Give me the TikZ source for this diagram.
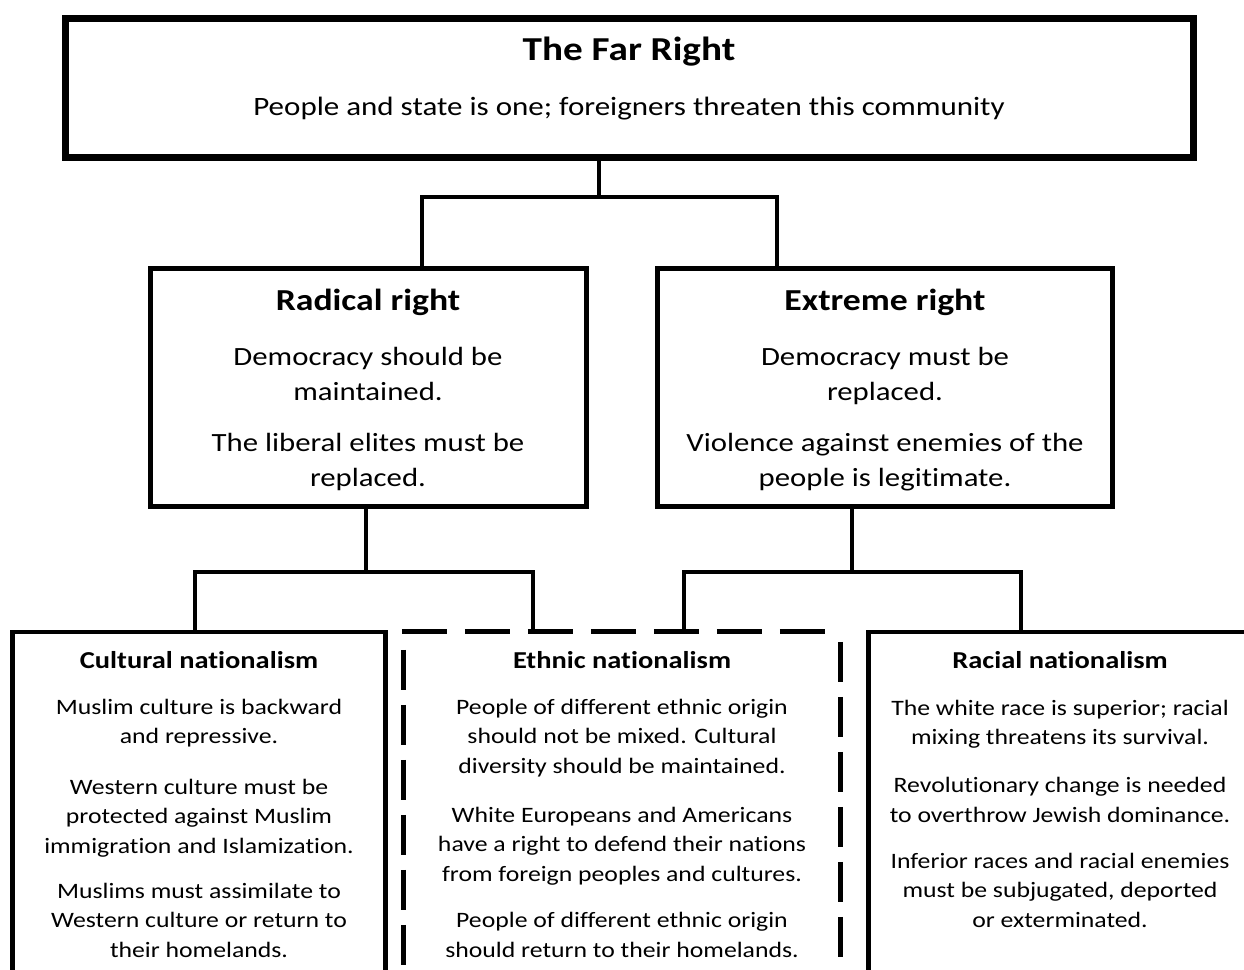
\documentclass[tikz,border=0pt]{standalone}
\usepackage{fontspec}
\setmainfont{Carlito}[FakeStretch=1.17, Ligatures=CommonOff]
\begin{document}
\begin{tikzpicture}[x=1pt,y=-1pt,
  topbox/.style={draw, line width=7pt, inner sep=0pt},
  midbox/.style={draw, line width=4.5pt, inner sep=0pt},
  lowbox/.style={draw, line width=4.5pt, inner sep=0pt},
  ghostbox/.style={inner sep=0pt},
  conn/.style={line width=4.5pt},
  dashline/.style={line width=5pt, dash pattern=on 45pt off 18pt},
  dashvert/.style={line width=5pt, dash pattern=on 40pt off 15pt},
  toptitle/.style={font=\fontsize{33.5}{40}\selectfont\bfseries, inner sep=0pt},
  toptext/.style={font=\fontsize{26.5}{32}\selectfont, inner sep=0pt},
  midtitle/.style={font=\fontsize{30.5}{36}\selectfont\bfseries, inner sep=0pt},
  midtext/.style={font=\fontsize{26.3}{35.5}\selectfont, align=center, inner sep=0pt},
  lowtitle/.style={font=\fontsize{24.3}{28}\selectfont\bfseries, inner sep=0pt},
  lowtext/.style={font=\fontsize{22}{29.5}\selectfont, align=center, inner sep=0pt}
]
\useasboundingbox (0,0) rectangle (1244,969);
\clip (0,0) rectangle (1244,969);
\fill[white] (0,0) rectangle (1244,969);

% boxes
\node[topbox, minimum width=1128pt, minimum height=139pt] (top) at (629.5,88) {};
\node[midbox, minimum width=436pt, minimum height=238pt] (rad) at (368.5,387.5) {};
\node[midbox, minimum width=455pt, minimum height=238pt] (ext) at (885,387.5) {};
\node[lowbox, minimum width=373pt, minimum height=380pt] (cult) at (199,822) {};
\node[ghostbox, minimum width=436pt, minimum height=380pt] (eth) at (622,822) {};
\node[lowbox, minimum width=392pt, minimum height=380pt] (race) at (1064.5,822) {};

% dashed ethnic box
\draw[dashline] ([xshift=-2pt]eth.north west) -- (eth.north east);
\draw[dashvert] ([yshift=-18pt]eth.north west) -- (eth.south west);
\draw[dashvert] ([yshift=-10pt]eth.north east) -- (eth.south east);

% connector junctions
\coordinate (j0) at (599,197);
\coordinate (jl) at (422,197);
\coordinate (jr) at (777,197);
\coordinate (k0) at (366,572);
\coordinate (kl) at (195,572);
\coordinate (kr) at (533,572);
\coordinate (m0) at (852,572);
\coordinate (ml) at (684,572);
\coordinate (mr) at (1021,572);

\draw[conn] (top.south -| j0) -- (j0);
\draw[conn] (rad.north -| jl) -- (jl) -- (jr) -- (ext.north -| jr);
\draw[conn] (rad.south -| k0) -- (k0);
\draw[conn] (cult.north -| kl) -- (kl) -- (kr) -- (eth.north -| kr);
\draw[conn] (ext.south -| m0) -- (m0);
\draw[conn] (eth.north -| ml) -- (ml) -- (mr) -- (race.north -| mr);

% texts
\node[toptitle] (t1) at (629,52) {The Far Right};
\node[toptext] (t2) at (629,109) {People and state is one; foreigners threaten this community};

\node[midtitle] (r1) at (368,302) {Radical right};
\node[midtext] (r2) at (368,374) {Democracy should be\\maintained.};
\node[midtext] (r3) at (368,462) {The liberal elites must be\\replaced.};

\node[midtitle] (e1) at (885,302) {Extreme right};
\node[midtext] (e2) at (885,376) {Democracy must be\\replaced.};
\node[midtext] (e3) at (885,462) {Violence against enemies of the\\people is legitimate.};

\node[lowtitle] (c1) at (199,660) {Cultural nationalism};
\node[lowtext] (c2) at (199,723) {Muslim culture is backward\\and repressive.};
\node[lowtext] (c3) at (199,818) {Western culture must be\\protected against Muslim\\immigration and Islamization.};
\node[lowtext] (c4) at (199,920) {Muslims must assimilate to\\Western culture or return to\\their homelands.};

\node[lowtitle] (n1) at (622,660) {Ethnic nationalism};
\node[lowtext] (n2) at (622,738) {People of different ethnic origin\\should not be mixed. Cultural\\diversity should be maintained.};
\node[lowtext] (n3) at (622,846) {White Europeans and Americans\\have a right to defend their nations\\from foreign peoples and cultures.};
\node[lowtext] (n4) at (622,935) {People of different ethnic origin\\should return to their homelands.};

\node[lowtitle] (a1) at (1060,660) {Racial nationalism};
\node[lowtext] (a2) at (1060,724) {The white race is superior; racial\\mixing threatens its survival.};
\node[lowtext] (a3) at (1060,800) {Revolutionary change is needed\\to overthrow Jewish dominance.};
\node[lowtext] (a4) at (1060,890) {Inferior races and racial enemies\\must be subjugated, deported\\or exterminated.};
\end{tikzpicture}
\end{document}
